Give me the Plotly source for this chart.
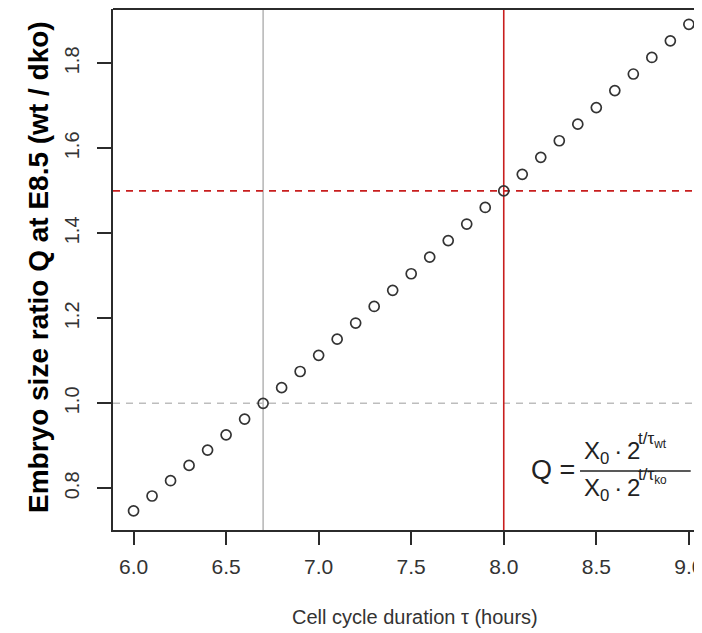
import plotly.graph_objects as go

# ---- data ----
tau = [6.0, 6.1, 6.2, 6.3, 6.4, 6.5, 6.6, 6.7, 6.8, 6.9, 7.0, 7.1, 7.2, 7.3, 7.4, 7.5,
       7.6, 7.7, 7.8, 7.9, 8.0, 8.1, 8.2, 8.3, 8.4, 8.5, 8.6, 8.7, 8.8, 8.9, 9.0]
q_ratio = [0.747, 0.782, 0.818, 0.854, 0.890, 0.926, 0.963, 1.000, 1.037, 1.075, 1.113,
           1.151, 1.189, 1.228, 1.266, 1.305, 1.344, 1.383, 1.422, 1.461, 1.500, 1.539,
           1.579, 1.618, 1.657, 1.696, 1.736, 1.775, 1.814, 1.853, 1.892]

x_ticks = [6.0, 6.5, 7.0, 7.5, 8.0, 8.5, 9.0]
x_tick_labels = ["6.0", "6.5", "7.0", "7.5", "8.0", "8.5", "9.0"]
y_ticks = [0.8, 1.0, 1.2, 1.4, 1.6, 1.8]
y_tick_labels = ["0.8", "1.0", "1.2", "1.4", "1.6", "1.8"]

tau_wt = 6.7        # grey vertical reference
tau_ko = 8.0        # red vertical reference
q_equal = 1.0       # grey dashed horizontal reference
q_observed = 1.5    # red dashed horizontal reference

x_title = "Cell cycle duration τ (hours)"
y_title = "Embryo size ratio Q at E8.5 (wt / dko)"

FONT = "Liberation Sans, Arial, sans-serif"
DARK = "#2b2b2b"
RED = "#c81e1e"
GREY = "#b4b4b4"
INK = "#222222"

fig = go.Figure()

fig.add_trace(go.Scatter(
    x=tau, y=q_ratio, mode="markers",
    marker=dict(symbol="circle-open", size=10, color="#333333",
                line=dict(width=1.7, color="#333333")),
    showlegend=False, hoverinfo="x+y"))

# reference lines
fig.add_vline(x=tau_wt, line=dict(color=GREY, width=1.5), layer="below")
fig.add_hline(y=q_equal, line=dict(color="#bdbdbd", width=1.5, dash="7px,6px"), layer="below")
fig.add_vline(x=tau_ko, line=dict(color=RED, width=1.6), layer="below")
fig.add_hline(y=q_observed, line=dict(color=RED, width=1.6, dash="7px,6px"), layer="below")

# top border of the box
fig.add_shape(type="line", xref="paper", yref="paper", x0=0, x1=1, y0=1, y1=1,
              line=dict(color=DARK, width=2))

# formula  Q = X0·2^(t/τwt) / X0·2^(t/τko)
base_text = "X<sub>0</sub>\u2009·\u20092"
fig.add_annotation(x=8.266, y=0.843, xref="x", yref="y", text="Q =",
                   showarrow=False, font=dict(family=FONT, size=27, color=INK))
fig.add_shape(type="line", xref="x", yref="y", x0=8.412, x1=9.01, y0=0.841, y1=0.841,
              line=dict(color=INK, width=1.5))
fig.add_annotation(x=8.420, y=0.841, xref="x", yref="y", xanchor="left", yanchor="bottom",
                   yshift=1, text=base_text,
                   showarrow=False, font=dict(family=FONT, size=24, color=INK))
fig.add_annotation(x=8.712, y=0.914, xref="x", yref="y", xanchor="left", yanchor="middle",
                   text="t/τ<sub>wt</sub>",
                   showarrow=False, font=dict(family=FONT, size=17, color=INK))
fig.add_annotation(x=8.420, y=0.841, xref="x", yref="y", xanchor="left", yanchor="top",
                   yshift=-1, text=base_text,
                   showarrow=False, font=dict(family=FONT, size=24, color=INK))
fig.add_annotation(x=8.712, y=0.829, xref="x", yref="y", xanchor="left", yanchor="middle",
                   text="t/τ<sub>ko</sub>",
                   showarrow=False, font=dict(family=FONT, size=17, color=INK))

# axis titles
fig.add_annotation(xref="paper", yref="paper", x=(415 - 113) / 589, y=0, yanchor="middle",
                   yshift=-87, text=x_title, showarrow=False,
                   font=dict(family=FONT, size=20, color="#333"))
fig.add_annotation(xref="paper", yref="paper", x=0, y=0.5, xshift=-92, yshift=2,
                   textangle=-90,
                   text="<b>" + y_title + "</b>", showarrow=False,
                   font=dict(family=FONT, size=28, color="#000"))

# the page adds an 8px body margin, so the figure is 8px smaller than the window
fig.update_layout(
    width=694, height=625,
    margin=dict(l=105, r=0, t=1, b=103, autoexpand=False),
    paper_bgcolor="white", plot_bgcolor="white",
    font=dict(family=FONT, color=DARK),
    xaxis=dict(range=[5.889, 9.071], tickvals=x_ticks, ticktext=x_tick_labels,
               showgrid=False, zeroline=False, showline=True, linecolor=DARK, linewidth=2,
               ticks="outside", ticklen=13, tickwidth=1.5, tickcolor=DARK,
               tickfont=dict(family=FONT, size=21, color="#333"), ticklabelstandoff=4,
               automargin=False, ticklabeloverflow="allow"),
    yaxis=dict(range=[0.702, 1.928], tickvals=y_ticks, ticktext=y_tick_labels,
               showgrid=False, zeroline=False, showline=True, linecolor=DARK, linewidth=2,
               ticks="outside", ticklen=14, tickwidth=1.5, tickcolor=DARK, tickangle=-90,
               tickfont=dict(family=FONT, size=20, color="#333"), ticklabelstandoff=10,
               automargin=False),
)

fig.write_html("out.html")
